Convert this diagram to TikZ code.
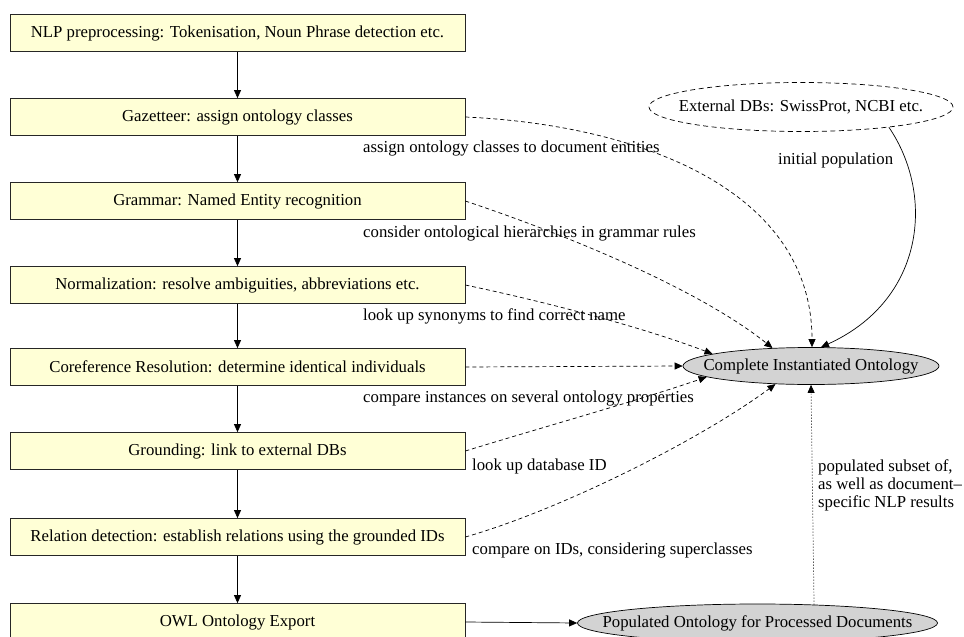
\documentclass[tikz,border=0pt]{standalone}
\usepackage{fontspec}
\setmainfont{Liberation Serif}
\usetikzlibrary{arrows.meta,shapes.geometric}
\definecolor{boxfill}{RGB}{255,255,214}
\definecolor{ovalfill}{RGB}{211,211,211}
% zero-width text so that an ellipse keeps the size it is given
\newcommand{\ovaltext}[1]{\makebox[0pt]{#1}}
\begin{document}
\begin{tikzpicture}[x=1pt,y=-1pt,
  font=\fontsize{16.75}{18}\selectfont,
  stage/.style={draw=black!85, fill=boxfill, rectangle, minimum width=455pt,
    minimum height=37pt, inner sep=0pt, line width=0.7pt},
  onto/.style={draw=black, fill=ovalfill, ellipse, inner sep=0pt, line width=0.7pt},
  flow/.style={-{Triangle[length=8pt,width=7pt]}, line width=0.7pt},
  link/.style={flow, dash pattern=on 4pt off 3pt},
  note/.style={anchor=west, inner sep=0pt}]
\useasboundingbox (0,0) rectangle (964,637);

% processing pipeline
\node[stage] (nlp)  at (237.5,33)  {NLP preprocessing: Tokenisation, Noun Phrase detection etc.};
\node[stage] (gaz)  at (237.5,117) {Gazetteer: assign ontology classes};
\node[stage] (gram) at (237.5,201) {Grammar: Named Entity recognition};
\node[stage] (norm) at (237.5,285) {Normalization: resolve ambiguities, abbreviations etc.};
\node[stage] (core) at (237.5,367) {Coreference Resolution: determine identical individuals};
\node[stage] (grnd) at (237.5,451) {Grounding: link to external DBs};
\node[stage] (rel)  at (237.5,537) {Relation detection: establish relations using the grounded IDs};
\node[stage] (owl)  at (237.5,622) {OWL Ontology Export};

\foreach \a/\b in {nlp/gaz,gaz/gram,gram/norm,norm/core,core/grnd,grnd/rel,rel/owl}
  \draw[flow] (\a) -- (\b);

% ontologies
\node[onto, minimum width=256pt, minimum height=37pt] (comp) at (811,366)
  {\ovaltext{Complete Instantiated Ontology}};
\node[onto, minimum width=360pt, minimum height=38pt] (pop) at (757.5,623)
  {\ovaltext{Populated Ontology for Processed Documents}};
\node[draw=black, ellipse, dash pattern=on 5pt off 3.5pt, line width=0.7pt,
  minimum width=304pt, minimum height=49pt, inner sep=0pt] (ext) at (801,107)
  {\ovaltext{External DBs: SwissProt, NCBI etc.}};

% ontology lookups
\draw[link] (gaz.east) .. controls (640,125) and (812,190) .. (comp.87);
\draw[link] (gram.east) .. controls (570,236) and (700,290) .. (comp.155);
\draw[link] (norm.east) .. controls (560,305) and (650,330) .. (comp.173);
\draw[link] (core.east) -- (comp.west);
\draw[link] (grnd.east) .. controls (540,428) and (640,400) .. (comp.186.7);
\draw[link] (rel.east) .. controls (560,510) and (700,440) .. (comp.207.6);
\draw[flow] (ext.-13) .. controls (935,195) and (925,300) .. (comp.62);
\draw[flow] (owl.east) -- (pop.west);
\draw[flow, dash pattern=on 1pt off 2pt] (pop.18.7) -- (comp.south);

% edge labels
\node[note] (l1) at (363,148) {assign ontology classes to document entities};
\node[note] (l2) at (363,233) {consider ontological hierarchies in grammar rules};
\node[note] (l3) at (363,316) {look up synonyms to find correct name};
\node[note] (l4) at (363,398) {compare instances on several ontology properties};
\node[note] (l5) at (472,466) {look up database ID};
\node[note] (l6) at (472,550) {compare on IDs, considering superclasses};
\node[note] (l7) at (778,160) {initial population};
\node[note, align=left] (l8) at (818,485) {populated subset of,\\as well as document--\\specific NLP results};
\end{tikzpicture}
\end{document}
